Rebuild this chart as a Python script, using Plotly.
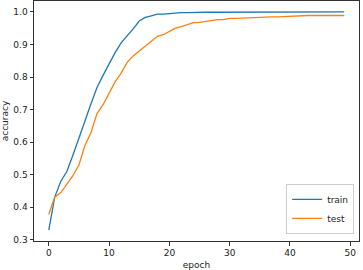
import plotly.graph_objects as go

epochs = list(range(50))
train_acc = [0.330, 0.432, 0.480, 0.510, 0.560, 0.610, 0.665, 0.718, 0.768, 0.805,
             0.840, 0.875, 0.905, 0.925, 0.948, 0.972, 0.983, 0.988, 0.993, 0.993,
             0.995, 0.998, 0.998, 0.998, 0.999, 0.999, 0.999, 0.999, 0.999, 1.000,
             1.000, 1.000, 1.000, 0.999, 1.000, 1.000, 1.000, 1.000, 1.000, 1.000,
             1.000, 1.000, 1.000, 1.000, 1.000, 1.000, 1.000, 1.000, 1.000, 1.000]
test_acc = [0.378, 0.432, 0.445, 0.470, 0.497, 0.530, 0.590, 0.630, 0.688, 0.715,
            0.748, 0.785, 0.812, 0.845, 0.865, 0.880, 0.897, 0.912, 0.925, 0.930,
            0.940, 0.950, 0.955, 0.962, 0.967, 0.968, 0.971, 0.975, 0.976, 0.976,
            0.980, 0.980, 0.981, 0.982, 0.984, 0.985, 0.985, 0.985, 0.985, 0.986,
            0.988, 0.989, 0.989, 0.989, 0.989, 0.989, 0.989, 0.989, 0.989, 0.989]
x_ticks = [0, 10, 20, 30, 40, 50]
y_ticks = [0.3, 0.4, 0.5, 0.6, 0.7, 0.8, 0.9, 1.0]

font = "DejaVu Sans"

fig = go.Figure()
fig.add_trace(go.Scatter(x=epochs, y=train_acc, mode="lines", name="train",
                         line=dict(color="#1f77b4", width=1.3)))
fig.add_trace(go.Scatter(x=epochs, y=test_acc, mode="lines", name="test",
                         line=dict(color="#ff7f0e", width=1.3)))

axis_common = dict(showline=True, linecolor="#333333", linewidth=1, mirror=True,
                   ticks="outside", ticklen=3.5, tickwidth=0.8, tickcolor="#333333",
                   showgrid=False, zeroline=False,
                   tickfont=dict(family=font, size=9, color="#222222"))

fig.update_xaxes(range=[-2.45, 51.45], tickvals=x_ticks,
                 ticktext=[str(v) for v in x_ticks],
                 title=dict(text="epoch", font=dict(family=font, size=9, color="#222222"), standoff=4),
                 **axis_common)
fig.update_yaxes(range=[0.2965, 1.0335], tickvals=y_ticks,
                 ticktext=[f"{v:.1f}" for v in y_ticks],
                 title=dict(text="accuracy", font=dict(family=font, size=9, color="#222222"), standoff=4),
                 **axis_common)

fig.update_layout(
    width=363, height=270,
    margin=dict(l=34, r=4, t=1, b=29, autoexpand=False),
    plot_bgcolor="white", paper_bgcolor="white",
    showlegend=True,
    legend=dict(x=0.985, y=0.03, xanchor="right", yanchor="bottom",
                bgcolor="rgba(255,255,255,0.8)", bordercolor="#cccccc", borderwidth=1,
                font=dict(family=font, size=9, color="#222222"),
                itemwidth=30, tracegroupgap=0),
)

fig.write_html("out.html", config={"displayModeBar": False})
